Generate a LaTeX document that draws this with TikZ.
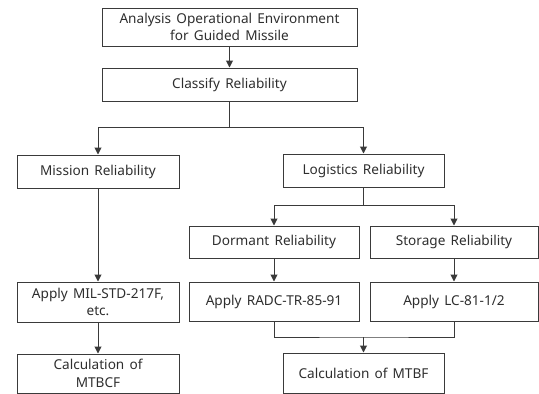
\documentclass[tikz,border=0pt]{standalone}
\usepackage{fontspec}
\setmainfont{Noto Sans}
\usetikzlibrary{arrows.meta}
\definecolor{linec}{HTML}{3A3A3A}
\definecolor{textc}{HTML}{2E2E2E}
\newcommand\boxfont{\fontsize{13.6}{17.5}\selectfont\spaceskip=0.38em plus 0.1em\relax}
\begin{document}
\begin{tikzpicture}[x=1pt,y=-1pt,
  box/.style={draw=linec,line width=1pt,rectangle,inner sep=0pt,align=center,
    font=\boxfont,text=textc},
  conn/.style={draw=linec,line width=1pt},
  arr/.style={conn,-{Triangle[width=7pt,length=7pt]}}]
\useasboundingbox (0,0) rectangle (539,394);
\node[box,minimum width=255pt,minimum height=38pt] (b1) at (229.5,27) {Analysis Operational Environment\\for Guided Missile};
\node[box,minimum width=255pt,minimum height=33pt] (cls) at (229.5,84.5) {Classify Reliability};
\node[box,minimum width=162pt,minimum height=33pt] (mis) at (98,171.5) {Mission Reliability};
\node[box,minimum width=161pt,minimum height=33pt] (log) at (363.5,170.5) {Logistics Reliability};
\node[box,minimum width=170pt,minimum height=32pt] (dor) at (274,242) {Dormant Reliability};
\node[box,minimum width=168pt,minimum height=32pt] (sto) at (454,242) {Storage Reliability};
\node[box,minimum width=162pt,minimum height=40pt] (mil) at (98,302) {Apply MIL-STD-217F,\\etc.};
\node[box,minimum width=170pt,minimum height=39pt] (radc) at (274,301.5) {Apply RADC-TR-85-91};
\node[box,minimum width=168pt,minimum height=39pt] (lc) at (454,301.5) {Apply LC-81-1/2};
\node[box,minimum width=162pt,minimum height=39pt] (mtbcf) at (98,373.5) {Calculation of\\MTBCF};
\node[box,minimum width=161pt,minimum height=40pt] (mtbf) at (363.5,373) {Calculation of MTBF};
\coordinate (j1) at (229.5,127);
\coordinate (j2) at (363.5,205);
\coordinate (j3) at (363.5,337);
\draw[arr] (b1) -- (cls);
\draw[conn] (cls) -- (j1);
\draw[arr] (j1) -| (mis.north);
\draw[arr] (j1) -| (log.north);
\draw[conn] (log) -- (j2);
\draw[arr] (j2) -| (dor.north);
\draw[arr] (j2) -| (sto.north);
\draw[arr] (mis) -- (mil);
\draw[arr] (mil) -- (mtbcf);
\draw[arr] (dor) -- (radc);
\draw[arr] (sto) -- (lc);
\draw[conn] (radc.south) |- (j3) -| (lc.south);
\draw[arr] (j3) -- (mtbf);
\end{tikzpicture}
\end{document}
